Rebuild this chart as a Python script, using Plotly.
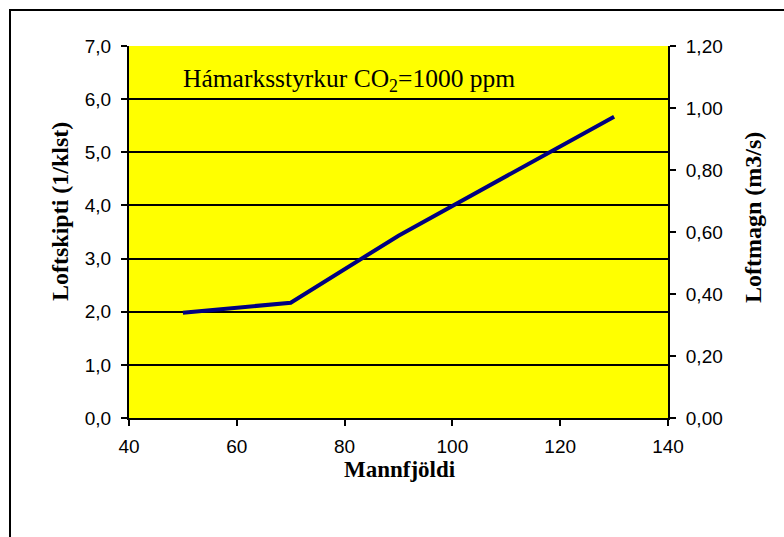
import plotly.graph_objects as go

# Number of occupants and resulting air change rate
mannfjoldi = [50, 70, 90, 110, 130]
loftskipti = [1.98, 2.17, 3.43, 4.55, 5.67]

x_ticks = [40, 60, 80, 100, 120, 140]
y_ticks = [0, 1, 2, 3, 4, 5, 6, 7]
y2_ticks = [0, 0.2, 0.4, 0.6, 0.8, 1.0, 1.2]

W, H = 784, 537
L, R, T, B = 129, 116, 46, 119
PW, PH = W - L - R, H - T - B

def px_x(p):
    return (p - L) / PW

def px_y(p):
    return (H - B - p) / PH

SANS = "Arial, Liberation Sans, sans-serif"
SERIF = "Times New Roman, Liberation Serif, serif"

fig = go.Figure()
fig.add_trace(go.Scatter(
    x=mannfjoldi, y=loftskipti, mode="lines",
    line=dict(color="#000080", width=4),
    showlegend=False, hoverinfo="skip",
))
# empty trace so the secondary (air flow) axis is drawn
fig.add_trace(go.Scatter(x=[None], y=[None], yaxis="y2", mode="lines",
                         showlegend=False, hoverinfo="skip"))

fig.update_layout(
    width=W, height=H,
    margin=dict(l=L, r=R, t=T, b=B),
    paper_bgcolor="white",
    plot_bgcolor="#FFFF00",
    separators=",.",
    xaxis=dict(
        range=[40, 140], tickvals=x_ticks, ticks="outside", ticklen=6,
        tickwidth=1.5, tickcolor="black",
        showline=True, linecolor="black", linewidth=2,
        showgrid=False, zeroline=False,
        tickfont=dict(family=SANS, size=19, color="black"),
        ticklabelstandoff=4,
    ),
    yaxis=dict(
        range=[0, 7], tickvals=y_ticks, tickformat=".1f",
        ticks="outside", ticklen=6, tickwidth=1.5, tickcolor="black",
        showline=True, linecolor="black", linewidth=2,
        showgrid=True, gridcolor="black", gridwidth=1.5, zeroline=False,
        tickfont=dict(family=SANS, size=19, color="black"),
        ticklabelstandoff=6,
    ),
    yaxis2=dict(
        range=[0, 1.2], tickvals=y2_ticks, tickformat=".2f",
        overlaying="y", side="right",
        ticks="outside", ticklen=6, tickwidth=1.5, tickcolor="black",
        showline=True, linecolor="black", linewidth=2,
        showgrid=False, zeroline=False,
        tickfont=dict(family=SANS, size=19, color="black"),
        ticklabelstandoff=6,
    ),
    shapes=[dict(
        type="rect", xref="paper", yref="paper",
        x0=px_x(10), x1=px_x(800), y0=px_y(560), y1=px_y(10),
        line=dict(color="black", width=2), fillcolor="rgba(0,0,0,0)",
        layer="below",
    )],
    annotations=[
        dict(text="Hámarksstyrkur CO<sub>2</sub>=1000 ppm",
             xref="paper", yref="paper", x=px_x(181), y=px_y(80),
             xanchor="left", yanchor="middle", showarrow=False,
             font=dict(family=SERIF, size=25.5, color="black")),
        dict(text="<b>Mannfjöldi</b>",
             xref="paper", yref="paper", x=px_x(400), y=px_y(469),
             xanchor="center", yanchor="middle", showarrow=False,
             font=dict(family=SERIF, size=23, color="black")),
        dict(text="<b>Loftskipti (1/klst)</b>",
             xref="paper", yref="paper", x=px_x(60), y=px_y(212),
             xanchor="center", yanchor="middle", showarrow=False, textangle=-90,
             font=dict(family=SERIF, size=24, color="black")),
        dict(text="<b>Loftmagn (m3/s)</b>",
             xref="paper", yref="paper", x=px_x(753), y=px_y(218),
             xanchor="center", yanchor="middle", showarrow=False, textangle=-90,
             font=dict(family=SERIF, size=24, color="black")),
    ],
)

fig.write_html("out.html")
